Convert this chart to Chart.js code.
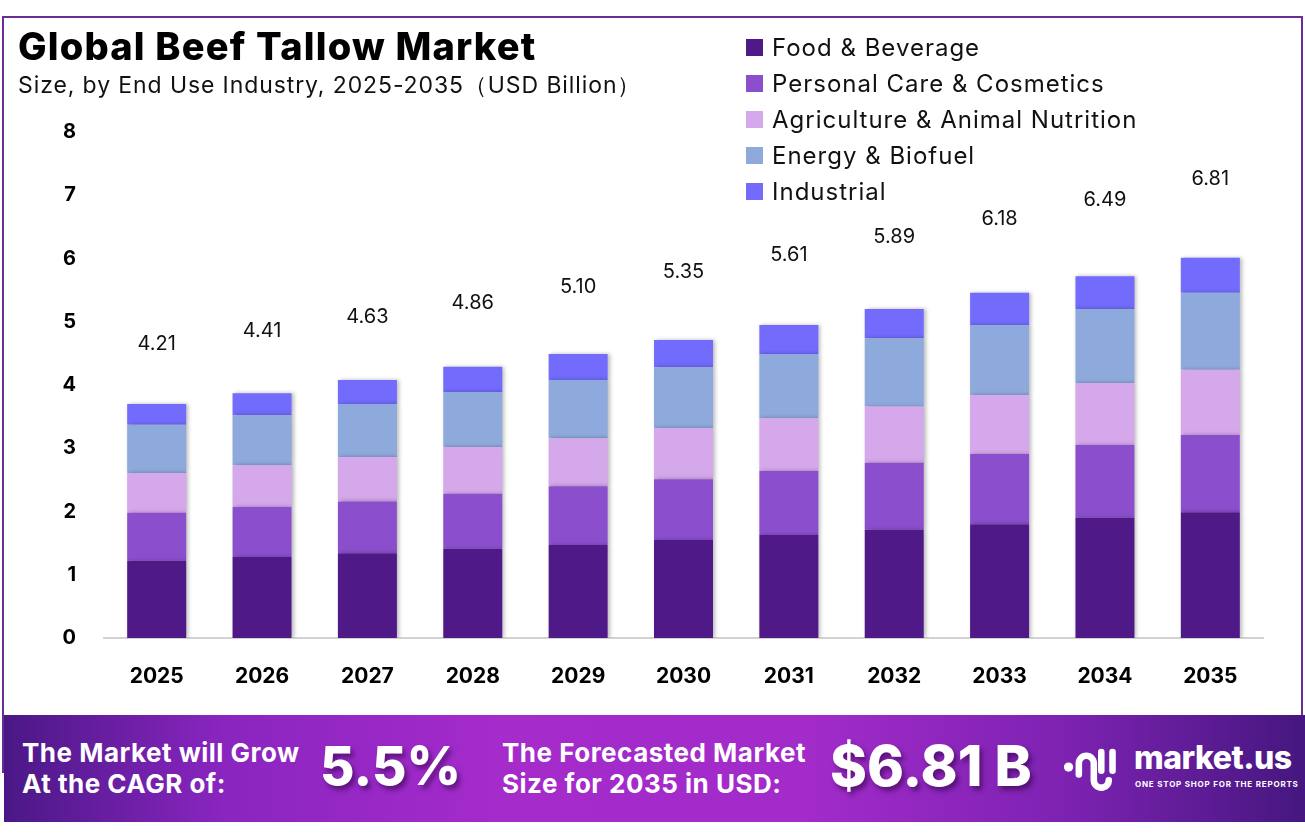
<!DOCTYPE html>
<html>
<head>
<meta charset="utf-8">
<script src="https://cdn.jsdelivr.net/npm/chart.js@4.4.1/dist/chart.umd.min.js"></script>
<style>
body{margin:0;width:1305px;height:839px;background:#fff;font-family:Inter,"Noto Sans",sans-serif;position:relative;overflow:hidden}
.line{position:absolute;background:#6b2c93}
#chart{position:absolute;left:0;top:0}
#title{position:absolute;left:18px;top:23px;font-size:38px;font-weight:800;color:#000;letter-spacing:1.2px;white-space:nowrap}
#subtitle{position:absolute;left:18px;top:70px;font-size:23px;font-weight:400;color:#111;letter-spacing:0.9px;white-space:nowrap}
#legend{position:absolute;left:746px;top:29px}
.item{height:36px;display:flex;align-items:center;font-size:24px;color:#111;letter-spacing:1px;white-space:nowrap}
.box{width:17px;height:17px;margin-right:9px}
#banner{position:absolute;left:4px;top:715px;width:1301px;height:107px;
 background:linear-gradient(90deg,#4a1886 0%,#8a25c0 17%,#a52bcb 38%,#a22bca 62%,#7c22b1 82%,#45177f 100%);color:#fff}
.small{position:absolute;font-size:26px;font-weight:700;line-height:31px;letter-spacing:0.5px;white-space:nowrap}
.big{position:absolute;font-weight:800;text-shadow:3px 4px 5px rgba(40,0,60,0.55);white-space:nowrap}
#logo{position:absolute;left:1058px;top:24px}
#brand{position:absolute;left:1130px;top:23px;font-size:32px;font-weight:800;letter-spacing:-0.5px}
#tag{position:absolute;left:1131px;top:64px;font-size:8px;font-weight:700;letter-spacing:0.8px;white-space:nowrap}
</style>
</head>
<body>
<div class="line" style="left:2px;top:16px;width:1301px;height:2px"></div>
<div class="line" style="left:2px;top:16px;width:2px;height:757px"></div>
<div class="line" style="left:1301px;top:16px;width:2px;height:700px"></div>
<canvas id="chart" width="1305" height="715"></canvas>
<div id="title">Global Beef Tallow Market</div>
<div id="subtitle">Size, by End Use Industry, 2025-2035（USD Billion）</div>
<div id="legend"></div>
<div id="banner">
  <div class="small" style="left:18px;top:22px">The Market will Grow<br>At the CAGR of:</div>
  <div class="big" style="left:316px;top:19px;font-size:53px">5.5%</div>
  <div class="small" style="left:498px;top:22px">The Forecasted Market<br>Size for 2035 in USD:</div>
  <div class="big" style="left:826px;top:17px;font-size:56px">$6.81 B</div>
  <svg id="logo" width="58" height="58" viewBox="0 0 62 62">
    <circle cx="7" cy="30" r="5" fill="#fff"/>
    <path d="M18 38 V26 a8 8 0 0 1 16 0 V44 a8 8 0 0 0 16 0" stroke="#fff" stroke-width="7" fill="none" stroke-linecap="round"/>
    <path d="M42 14 V34 M54 14 V34" stroke="#fff" stroke-width="7" fill="none" stroke-linecap="round"/>
  </svg>
  <div id="brand">market.us</div>
  <div id="tag">ONE STOP SHOP FOR THE REPORTS</div>
</div>
<script>
const years = ['2025','2026','2027','2028','2029','2030','2031','2032','2033','2034','2035'];
const foodBeverage = [1.22,1.28,1.34,1.41,1.47,1.55,1.63,1.71,1.80,1.90,1.99];
const personalCare = [0.76,0.79,0.82,0.87,0.93,0.96,1.01,1.06,1.11,1.15,1.22];
const agriculture = [0.63,0.66,0.70,0.74,0.76,0.81,0.84,0.89,0.93,0.98,1.03];
const energyBiofuel = [0.76,0.79,0.84,0.87,0.92,0.96,1.01,1.08,1.11,1.17,1.22];
const industrial = [0.33,0.35,0.38,0.40,0.41,0.43,0.46,0.46,0.51,0.52,0.55];
const totals = [4.21,4.41,4.63,4.86,5.10,5.35,5.61,5.89,6.18,6.49,6.81];
const yTicks = [0,1,2,3,4,5,6,7,8];

const seriesNames = ['Food & Beverage','Personal Care & Cosmetics','Agriculture & Animal Nutrition','Energy & Biofuel','Industrial'];
const seriesColors = ['#4f1a87','#8b4fce','#d5a7eb','#8ea9db','#736bfc'];
const seriesData = [foodBeverage, personalCare, agriculture, energyBiofuel, industrial];

const legend = document.querySelector('#legend');
seriesNames.forEach((name, i) => {
  legend.innerHTML += `<div class="item"><span class="box" style="background:${seriesColors[i]}"></span>${name.replace(/&/g,'&amp;')}</div>`;
});

// bar shadow + the total labels above every bar
const totalLabels = {
  id: 'totalLabels',
  beforeDatasetsDraw(chart) {
    const ctx = chart.ctx;
    ctx.save();
    ctx.shadowColor = 'rgba(0,0,0,0.28)';
    ctx.shadowBlur = 4;
    ctx.shadowOffsetX = 2;
  },
  afterDatasetsDraw(chart) {
    const ctx = chart.ctx;
    ctx.restore();
    const x = chart.scales.x, y = chart.scales.y;
    ctx.save();
    ctx.font = '400 20px Inter';
    ctx.fillStyle = '#111';
    ctx.textAlign = 'center';
    ctx.textBaseline = 'middle';
    totals.forEach((t, i) => {
      ctx.fillText(t.toFixed(2), x.getPixelForValue(i), y.getPixelForValue(t) - 28);
    });
    ctx.restore();
  }
};

new Chart(document.querySelector('#chart'), {
  type: 'bar',
  data: {
    labels: years,
    datasets: seriesData.map((d, i) => ({
      label: seriesNames[i],
      data: d,
      backgroundColor: seriesColors[i],
      barPercentage: 0.56,
      categoryPercentage: 1
    }))
  },
  options: {
    responsive: false,
    animation: false,
    layout: { padding: { left: 44, top: 132, right: 42, bottom: 0 } },
    plugins: { legend: { display: false }, tooltip: { enabled: false } },
    scales: {
      x: {
        stacked: true,
        grid: { display: false },
        border: { display: true, color: '#d2d2d2', width: 2 },
        ticks: { color: '#000', font: { family: 'Inter', size: 21, weight: '700' }, padding: 18 },
        afterFit: (s) => { s.height = 77; }
      },
      y: {
        stacked: true,
        min: 0, max: 8,
        grid: { display: false },
        border: { display: false },
        afterBuildTicks: (s) => { s.ticks = yTicks.map(v => ({ value: v })); },
        ticks: { color: '#000', font: { family: 'Inter', size: 20, weight: '700' }, padding: 20 },
        afterFit: (s) => { s.width = 60; }
      }
    }
  },
  plugins: [totalLabels]
});
</script>
</body>
</html>
